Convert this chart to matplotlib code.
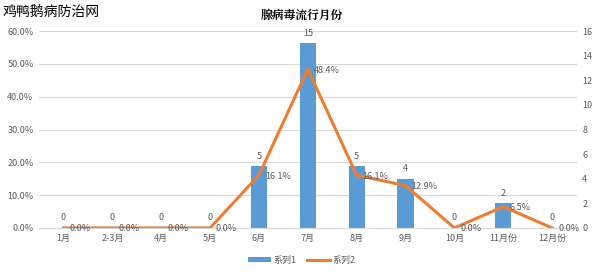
import matplotlib.pyplot as plt
import numpy as np
from matplotlib.ticker import FuncFormatter

plt.rcParams['font.family'] = ['Noto Sans CJK SC', 'DejaVu Sans']

# data
months = ['1月', '2-3月', '4月', '5月', '6月', '7月', '8月', '9月', '10月', '11月份', '12月份']
counts = [0, 0, 0, 0, 5, 15, 5, 4, 0, 2, 0]
percent = [0.0, 0.0, 0.0, 0.0, 16.1, 48.4, 16.1, 12.9, 0.0, 6.5, 0.0]

blue = '#5B9BD5'
orange = '#ED7D31'
tc = '#595959'

fig = plt.figure(figsize=(6.04, 2.75), dpi=100)
ax2 = fig.add_axes([0.0646, 0.171, 0.89, 0.716])
ax = ax2.twinx()
ax.yaxis.tick_left()
ax2.yaxis.tick_right()

x = np.arange(len(months))

# gridlines (left axis 0..60%) drawn behind the bars
for g in range(10, 61, 10):
    ax2.axhline(g * 16 / 60, color='#D9D9D9', lw=0.8, zorder=0)

# bars on right axis (counts)
ax2.bar(x, counts, width=0.33, color=blue, zorder=2, label='系列1')
for xi, c in zip(x, counts):
    ax2.text(xi, c + 0.45, str(c), ha='center', va='bottom', fontsize=6.5, color=tc)
ax2.set_ylim(0, 16)
ax2.set_yticks(range(0, 17, 2))
ax2.set_xlim(-0.5, len(months) - 0.5)
ax2.set_xticks(x)
ax2.set_xticklabels(months)

# line on left axis (percent)
ax.plot(x, percent, color=orange, lw=2.2, zorder=3, label='系列2')
for xi, p in zip(x, percent):
    ax.text(xi + 0.12, p - 0.3, f'{p:.1f}%', ha='left', va='center', fontsize=6.5, color=tc)
ax.set_ylim(0, 60)
ax.set_yticks(range(0, 61, 10))
ax.yaxis.set_major_formatter(FuncFormatter(lambda v, _: f'{v:.1f}%'))

for a in (ax, ax2):
    for s in a.spines.values():
        s.set_visible(False)
    a.tick_params(length=0, labelsize=6.5, colors=tc, pad=4)
ax2.spines['bottom'].set_visible(True)
ax2.spines['bottom'].set_color('#D9D9D9')

fig.text(0.5, 0.945, '腺病毒流行月份', ha='center', va='center', fontsize=8.5,
         fontweight='bold', family=['Noto Serif CJK SC', 'Noto Sans CJK SC', 'DejaVu Sans'])
fig.text(0.005, 0.955, '鸡鸭鹅病防治网', ha='left', va='center', fontsize=10, color='black')

h1, l1 = ax2.get_legend_handles_labels()
h2, l2 = ax.get_legend_handles_labels()
fig.legend(h1 + h2, l1 + l2, loc='center', bbox_to_anchor=(0.5, 0.055), ncol=2,
           frameon=False, fontsize=6.5, handlelength=2.5, handleheight=0.5,
           handletextpad=0.3, columnspacing=1.2, labelcolor=tc)

fig.savefig('out.png', dpi=100)
